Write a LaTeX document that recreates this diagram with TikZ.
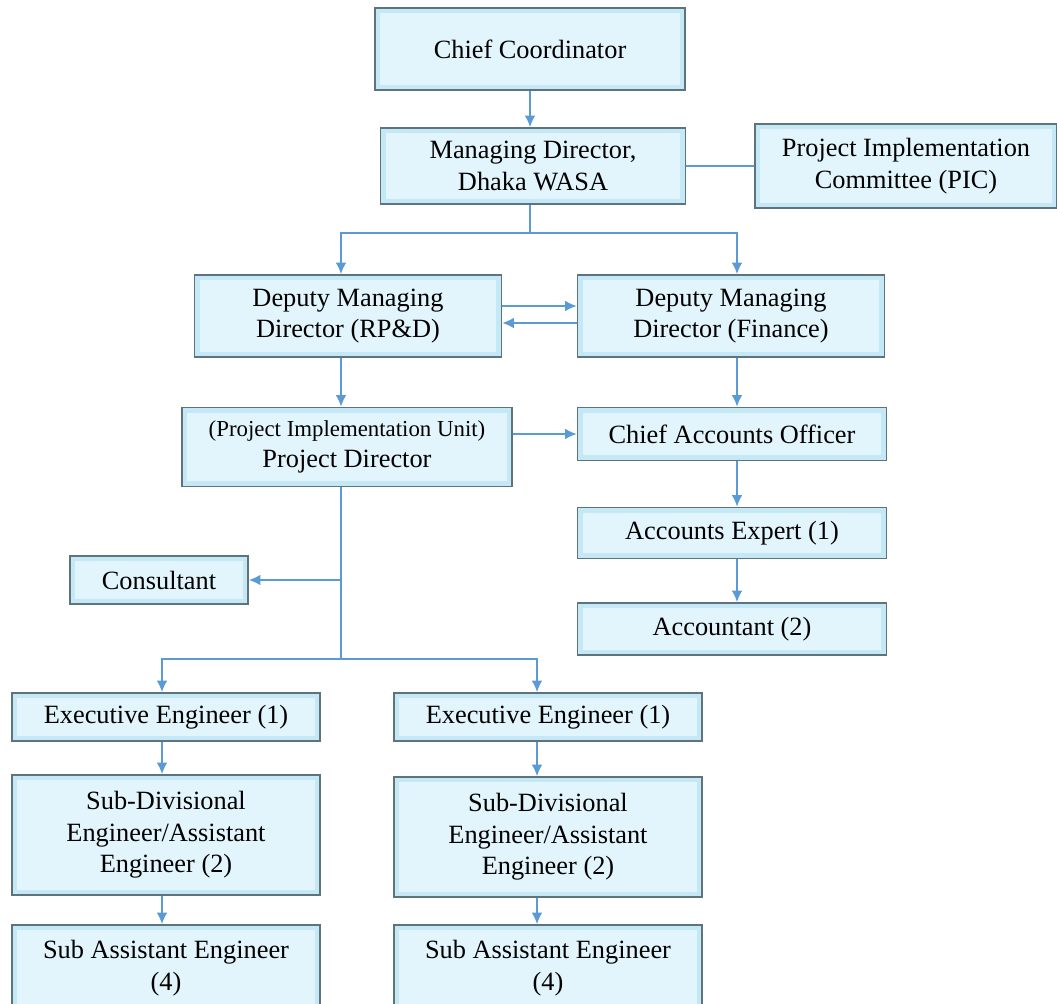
\documentclass[tikz,border=0pt]{standalone}
\usepackage{fontspec}
\setmainfont{Liberation Serif}
\usetikzlibrary{arrows.meta}
\definecolor{boxfill}{RGB}{226,245,252}
\definecolor{boxedge}{RGB}{196,232,245}
\definecolor{boxline}{RGB}{95,115,122}
\definecolor{linkblue}{RGB}{91,155,213}
\tikzset{
  orgbox/.style={draw=boxline, line width=1pt, fill=boxfill, align=center,
    inner sep=1pt, minimum width=6.16cm,
    font=\fontsize{15}{18}\selectfont,
    path picture={\draw[line width=6pt, boxedge]
      (path picture bounding box.south west) rectangle (path picture bounding box.north east);}},
  link/.style={draw=linkblue, line width=0.8pt},
  arr/.style={link, -{Latex[length=6.5pt, width=6pt]}}
}
\begin{document}
\begin{tikzpicture}[x=0.02cm, y=-0.02cm]
\useasboundingbox (0,0) rectangle (1057,1003);

\node[orgbox, minimum width=6.2cm, minimum height=1.64cm] (cc) at (530,49) {Chief Coordinator};
\node[orgbox, minimum width=6.1cm, minimum height=1.52cm] (md) at (533,166) {Managing Director,\\Dhaka WASA};
\node[orgbox, minimum width=6.04cm, minimum height=1.68cm] (pic) at (906,166) {Project Implementation\\Committee (PIC)};
\node[orgbox, minimum width=6.14cm, minimum height=1.64cm] (dmdr) at (348,316) {Deputy Managing\\Director (RP\&D)};
\node[orgbox, minimum width=6.14cm, minimum height=1.64cm] (dmdf) at (731,316) {Deputy Managing\\Director (Finance)};
\node[orgbox, minimum width=6.6cm, minimum height=1.58cm] (pd) at (347,447) {{\fontsize{13}{16}\selectfont (Project Implementation Unit)}\\Project Director};
\node[orgbox, minimum width=6.18cm, minimum height=1.06cm] (cao) at (732,434) {Chief Accounts Officer};
\node[orgbox, minimum width=6.18cm, minimum height=1.02cm] (ae) at (732,533) {Accounts Expert (1)};
\node[orgbox, minimum width=6.18cm, minimum height=1.04cm] (acc) at (732,629) {Accountant (2)};
\node[orgbox, minimum width=3.56cm, minimum height=0.96cm] (cons) at (159,580) {Consultant};

% engineering teams
\node[orgbox, minimum height=0.96cm] (eel) at (166,717) {Executive Engineer (1)};
\node[orgbox, minimum height=0.96cm] (eer) at (548,717) {Executive Engineer (1)};
\node[orgbox, minimum height=2.4cm] (sdl) at (166,835) {Sub-Divisional\\Engineer/Assistant\\Engineer (2)};
\node[orgbox, minimum height=2.4cm] (sdr) at (548,837) {Sub-Divisional\\Engineer/Assistant\\Engineer (2)};
\node[orgbox, minimum height=1.72cm] (sal) at (166,968) {Sub Assistant Engineer\\(4)};
\node[orgbox, minimum height=1.72cm] (sar) at (548,968) {Sub Assistant Engineer\\(4)};

\coordinate (mdfork) at (530,233);
\coordinate (pdfork) at (341,659);
\coordinate (eelx) at (162,0);
\coordinate (eerx) at (537,0);

\draw[arr] (cc.south) -- (cc.south |- md.north);
\draw[link] (md.east) -- (pic.west);
\draw[link] (mdfork |- md.south) -- (mdfork);
\draw[arr] (mdfork) -| (pdfork |- dmdr.north);
\draw[arr] (mdfork) -| ([xshift=0.12cm]dmdf.north);
\draw[arr] ([yshift=0.2cm]dmdr.east) -- ([yshift=0.2cm]dmdf.west);
\draw[arr] ([yshift=-0.14cm]dmdf.west) -- ([yshift=-0.14cm]dmdr.east);
\draw[arr] (pdfork |- dmdr.south) -- (pdfork |- pd.north);
\draw[arr] ([xshift=0.12cm]dmdf.south) -- ([xshift=0.12cm]dmdf.south |- cao.north);
\draw[arr] (pd.east |- cao.west) -- (cao.west);
\draw[arr] ([xshift=0.1cm]cao.south) -- ([xshift=0.1cm]ae.north);
\draw[arr] ([xshift=0.1cm]ae.south) -- ([xshift=0.1cm]acc.north);

\draw[link] (pdfork |- pd.south) -- (pdfork);
\draw[arr] (pdfork |- cons.east) -- (cons.east);
\draw[arr] (pdfork) -| (eelx |- eel.north);
\draw[arr] (pdfork) -| (eerx |- eer.north);
\draw[arr] (eelx |- eel.south) -- (eelx |- sdl.north);
\draw[arr] (eerx |- eer.south) -- (eerx |- sdr.north);
\draw[arr] (eelx |- sdl.south) -- (eelx |- sal.north);
\draw[arr] (eerx |- sdr.south) -- (eerx |- sar.north);
\end{tikzpicture}
\end{document}
